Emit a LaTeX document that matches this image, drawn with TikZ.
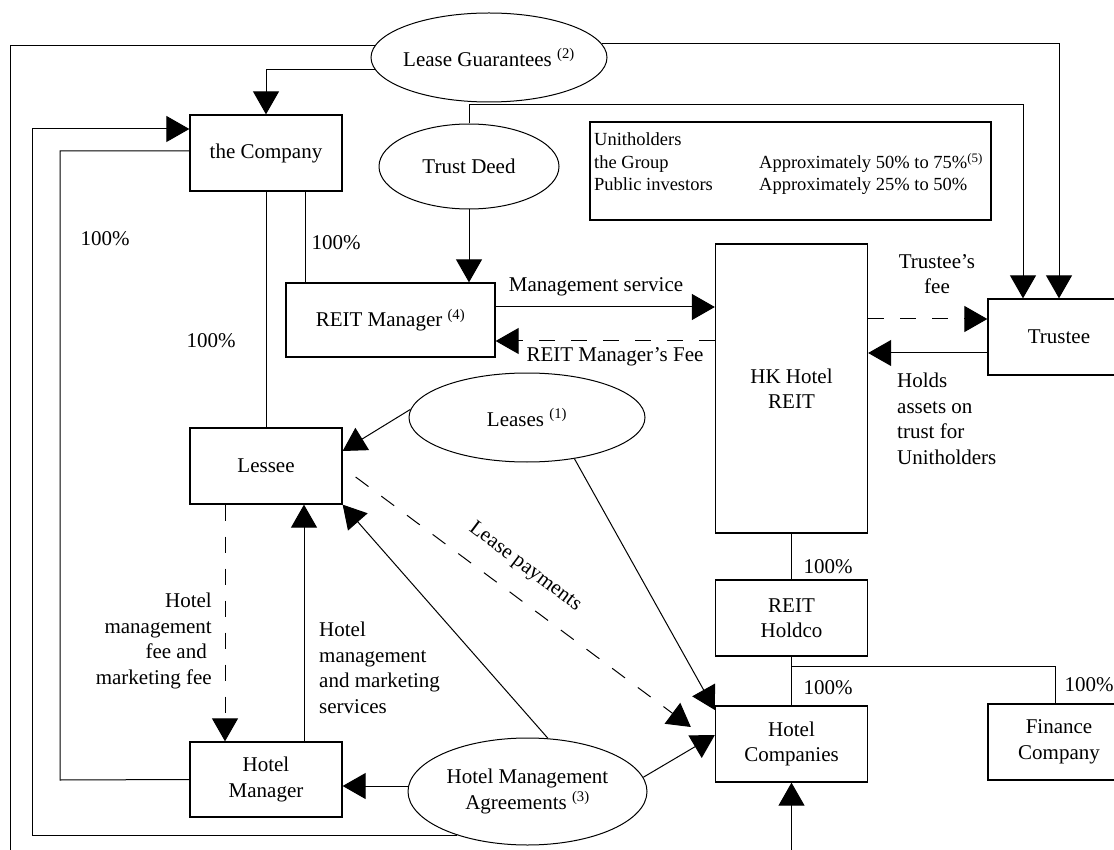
\documentclass[tikz,border=0pt]{standalone}
\usepackage{fontspec}
\setmainfont{Liberation Serif}
\usetikzlibrary{arrows.meta,shapes.geometric,calc}

\begin{document}
\begin{tikzpicture}[
    x=1pt, y=-1pt,
    every node/.style={font=\fontsize{21}{25.5}\selectfont},
    box/.style={draw, line width=1.3pt, minimum width=152pt, minimum height=76pt, align=center, inner sep=0pt},
    oval/.style={draw, ellipse, line width=1pt, minimum width=236pt, minimum height=89pt, align=center, inner sep=0pt, inner xsep=-6pt},
    lbl/.style={inner sep=0pt},
    link/.style={line width=1pt},
    arr/.style={line width=1pt, -{Triangle[length=23pt,width=26pt]}},
    dasharr/.style={arr, dash pattern=on 16pt off 16pt}
]
\useasboundingbox (0,0) rectangle (1114,850);
\clip (0,0) rectangle (1114,850);

\node[oval] (guar) at (489,57.5) {Lease Guarantees \textsuperscript{(2)}};
\node[oval, minimum width=180pt, minimum height=85pt] (deed) at (469,166.5) {Trust Deed};
\node[oval] (leases) at (527,417.5) {Leases \textsuperscript{(1)}};
\node[oval, minimum width=239pt, minimum height=107pt] (hma) at (527.5,791.5) {Hotel Management\\Agreements \textsuperscript{(3)}};

\node[box] (company) at (266,153) {the Company};
\node[box, minimum width=209pt, minimum height=74pt] (reitmgr) at (390.5,320) {REIT Manager \textsuperscript{(4)}};
\node[box, minimum height=289pt] (hkreit) at (791.5,388.5) {HK Hotel\\REIT};
\node[box, minimum width=142pt] (trustee) at (1059,337) {Trustee};
\node[box] (lessee) at (266,466) {Lessee};
\node[box, minimum height=75pt] (hotelmgr) at (266,779.5) {Hotel\\Manager};
\node[box] (holdco) at (791.5,618) {REIT\\Holdco};
\node[box] (hotelco) at (791.5,744) {Hotel\\Companies};
\node[box, minimum width=142pt] (finance) at (1059,742) {Finance\\Company};

\node[draw, line width=1.3pt, minimum width=401pt, minimum height=98pt, inner sep=0pt] (unitbox) at (790.5,171) {};
\node[lbl, anchor=north west, font=\fontsize{18.5}{22.5}\selectfont] (unittxt) at (594,130) {\begin{tabular}{@{}p{165pt}@{}l@{}}
Unitholders & \\
the Group & Approximately 50\% to 75\%\textsuperscript{(5)}\\
Public investors & Approximately 25\% to 50\%
\end{tabular}};

\coordinate (lowleft) at (10,860);
\coordinate (lowmid) at (791.5,860);

\draw[link] (guar.174) -| (lowleft);
\draw[arr] (guar.7) -| (trustee.north);
\draw[arr] (guar.186) -| (company.north);
\draw[arr] (deed.north) -- ++(0,-19) -| ([xshift=-36pt]trustee.north);
\draw[arr] (deed.south) -- (deed.south |- reitmgr.north);
\draw[link] (company.south) -- (lessee.north);
\draw[link] ([xshift=39pt]company.south) -- ([xshift=39pt]company.south |- reitmgr.north);
\draw[arr] (hma.212) -| (32,129) -- (company.west |- 0,129);
\draw[link] (company.west |- 0,151) -| (60,780) -- (hotelmgr.west);

\draw[arr] (reitmgr.east |- 0,307) -- (hkreit.west |- 0,307);
\draw[dasharr] (hkreit.west |- 0,341) -- (reitmgr.east |- 0,341);
\draw[dasharr] (hkreit.east |- 0,319) -- (trustee.west |- 0,319);
\draw[arr] (trustee.west |- 0,353) -- (hkreit.east |- 0,353);

\draw[link] (hkreit.south) -- (holdco.north);
\draw[link] (holdco.south) -- (hotelco.north);
\draw[link] (holdco.south |- 0,666) -| ([xshift=-4pt]finance.north);
\draw[arr] (lowmid) -- (hotelco.south);

\draw[arr] (leases.176) -- (lessee.east |- 0,451);
\draw[arr] (leases.-41) -- (hotelco.west |- 0,710);
\draw[dasharr] ($(lessee.east)+(13,11)$) -- ($(hotelco.west)+(-24,-17)$);
\draw[arr] (hma.west |- 0,786) -- (hotelmgr.east |- 0,786);
\draw[arr] (hma.69) -- (lessee.south east);
\draw[arr] (hma.7) -- (hotelco.west |- 0,735);
\draw[dasharr] (lessee.south -| 225,0) -- (hotelmgr.north -| 225,0);
\draw[arr] (hotelmgr.north -| 304,0) -- (lessee.south -| 304,0);

\node[lbl] (pctmgr) at (105,239) {100\%};
\node[lbl] (pctreit) at (336,243) {100\%};
\node[lbl] (pctlessee) at (211,341) {100\%};
\node[lbl] (pctholdco) at (828,567) {100\%};
\node[lbl] (pcthotelco) at (828,688) {100\%};
\node[lbl] (pctfinance) at (1089,685) {100\%};

\node[lbl] (svclbl) at (596,287) {Management service};
\node[lbl] (feelbl) at (615,357) {REIT Manager's Fee};
\node[lbl, align=center] (tfeelbl) at (937,274) {Trustee's\\fee};
\node[lbl, align=left, anchor=west] (holdlbl) at (897,419) {Holds\\assets on\\trust for\\Unitholders};
\node[lbl, align=right, anchor=east] (hmfeelbl) at (212,641) {Hotel\\management\\fee and\kern5pt\\marketing fee};
\node[lbl, align=left, anchor=west] (hmsvclbl) at (319,668) {Hotel\\management\\and marketing\\services};
\node[lbl, rotate=-37] (paylbl) at (525,567) {Lease payments};
\end{tikzpicture}
\end{document}
